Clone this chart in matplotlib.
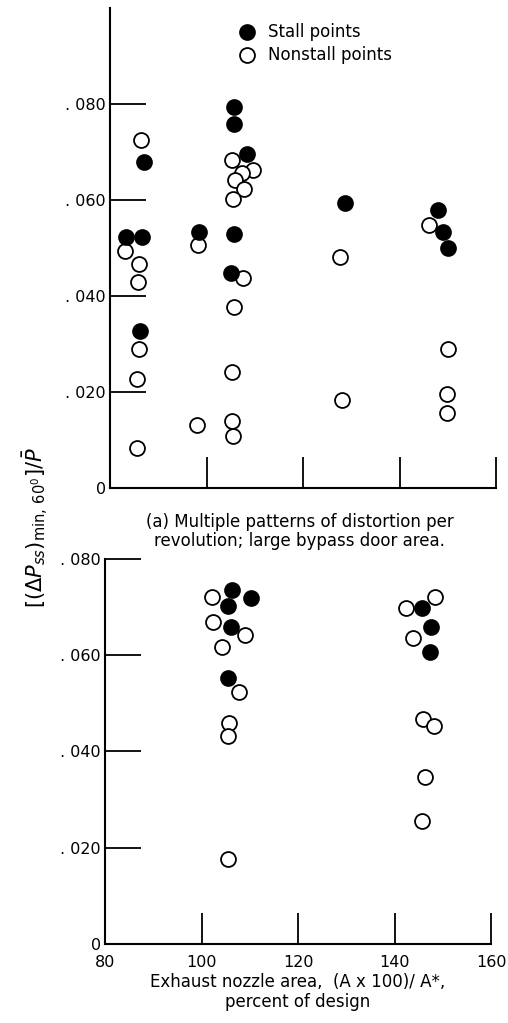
import matplotlib
matplotlib.use("Agg")
import matplotlib.pyplot as plt

plt.rcParams['font.family'] = ['Liberation Sans Narrow', 'DejaVu Sans']
plt.rcParams['mathtext.fontset'] = 'dejavusans'

# (a) multiple patterns of distortion per revolution
a_stall_x = [83.3, 86.6, 87.0, 86.2, 98.4, 105.7, 105.7, 108.4, 105.7, 105.1,
             128.7, 148.0, 149.0, 150.0]
a_stall_y = [0.0523, 0.0523, 0.0679, 0.0327, 0.0533, 0.0794, 0.0758, 0.0696,
             0.0529, 0.0448, 0.0594, 0.0579, 0.0533, 0.0500]
a_open_x = [86.4, 83.1, 86.0, 85.8, 86.0, 85.6, 85.6,
            98.2, 98.0,
            105.3, 109.6, 107.4, 105.9, 107.8, 105.5, 107.6, 105.7, 105.3, 105.3, 105.5,
            127.7, 128.1,
            146.1, 150.0, 149.8, 149.8]
a_open_y = [0.0725, 0.0494, 0.0467, 0.0429, 0.0290, 0.0227, 0.0083,
            0.0506, 0.0131,
            0.0683, 0.0663, 0.0656, 0.0642, 0.0623, 0.0602, 0.0438, 0.0377, 0.0242, 0.0140, 0.0108,
            0.0482, 0.0183,
            0.0548, 0.0290, 0.0196, 0.0156]

# (b) second configuration
b_stall_x = [106.3, 110.3, 105.5, 106.1, 105.5, 145.7, 147.6, 147.4]
b_stall_y = [0.0736, 0.0719, 0.0702, 0.0659, 0.0553, 0.0698, 0.0659, 0.0607]
b_open_x = [102.2, 102.4, 109.0, 104.2, 107.8, 105.7, 105.5, 105.5,
            148.4, 142.4, 143.8, 145.9, 148.2, 146.3, 145.7]
b_open_y = [0.0721, 0.0669, 0.0642, 0.0617, 0.0524, 0.0459, 0.0432, 0.0177,
            0.0721, 0.0698, 0.0636, 0.0468, 0.0453, 0.0347, 0.0256]

x_ticks = [80, 100, 120, 140, 160]
y_ticks = [0, 0.02, 0.04, 0.06, 0.08]
y_labels = ['0', '. 020', '. 040', '. 060', '. 080']

fig = plt.figure(figsize=(5.08, 10.23), dpi=100)
ax1 = fig.add_axes([0.2165, 0.523, 0.760, 0.469])
ax2 = fig.add_axes([0.2067, 0.0772, 0.760, 0.3764])

ms = 115
for ax, sx, sy, ox, oy in [(ax1, a_stall_x, a_stall_y, a_open_x, a_open_y),
                           (ax2, b_stall_x, b_stall_y, b_open_x, b_open_y)]:
    ax.scatter(ox, oy, s=ms, facecolors='white', edgecolors='black',
               linewidths=1.3, zorder=3, clip_on=False)
    ax.scatter(sx, sy, s=ms, facecolors='black', edgecolors='black',
               linewidths=1.3, zorder=4, clip_on=False)
    ax.set_xlim(80, 160)
    ax.set_xticks(x_ticks)
    ax.set_yticks(y_ticks)
    ax.set_yticklabels(y_labels)
    for s in ['top', 'right']:
        ax.spines[s].set_visible(False)
    for s in ['left', 'bottom']:
        ax.spines[s].set_linewidth(1.5)
    ax.tick_params(axis='y', direction='in', length=26, width=1.3,
                   labelsize=11.5, pad=3)
    ax.tick_params(axis='x', direction='in', length=22, width=1.3,
                   labelsize=11.5, pad=8)

ax1.set_ylim(0, 0.1)
ax1.tick_params(axis='x', labelbottom=False)
ax2.set_ylim(0, 0.08)

# legend drawn by hand in axes coordinates
ax1.scatter([0.355], [0.95], s=ms, transform=ax1.transAxes, facecolors='black',
            edgecolors='black', linewidths=1.3, clip_on=False)
ax1.scatter([0.355], [0.903], s=ms, transform=ax1.transAxes, facecolors='white',
            edgecolors='black', linewidths=1.3, clip_on=False)
ax1.text(0.41, 0.95, 'Stall points', transform=ax1.transAxes, fontsize=12,
         va='center', ha='left')
ax1.text(0.41, 0.903, 'Nonstall points', transform=ax1.transAxes, fontsize=12,
         va='center', ha='left')

fig.text(0.59, 0.499, '(a) Multiple patterns of distortion per\n'
         'revolution; large bypass door area.', ha='center', va='top',
         fontsize=12, linespacing=1.1)

ax2.set_xlabel('Exhaust nozzle area,  (A x 100)/ A*,\npercent of design',
               fontsize=12, linespacing=1.15, labelpad=2)

fig.text(0.07, 0.484,
         r'$\left[(\Delta P_{ss})_{\mathrm{min},\,60^0}\right]/\bar{P}$',
         rotation=90, ha='center', va='center', fontsize=15)

fig.savefig('out.png', dpi=100)
